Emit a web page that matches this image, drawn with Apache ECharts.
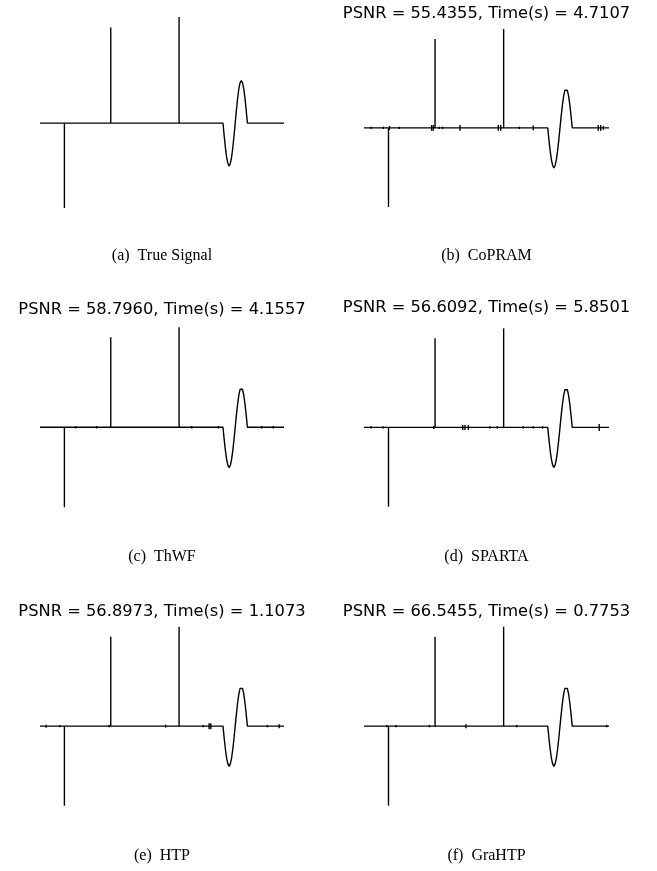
<!DOCTYPE html>
<html>
<head>
<meta charset="utf-8">
<script src="https://cdn.jsdelivr.net/npm/echarts@6/dist/echarts.min.js"></script>
<style>
html,body{margin:0;padding:0;background:#fff;}
#chart{width:657px;height:871px;}
</style>
</head>
<body>
<div id="chart"></div>
<script>
// ---------- DATA ----------
const xRange = [0, 1000];
const yRange = [-0.8, 1.0];

// true signal: spikes
const spikePos = [100, 290, 570];
const spikeAmp = [-0.8, 0.9, 1.0];

// true signal: smooth wave segment
const waveX = [750, 755, 760, 765, 770, 775, 780, 785, 790, 795, 800, 805, 810, 815, 820, 825, 830, 835, 840, 845, 850];
const waveY = [0, -0.124, -0.235, -0.324, -0.380, -0.405, -0.380, -0.324, -0.235, -0.124, 0, 0.124, 0.235, 0.324, 0.380, 0.400, 0.380, 0.324, 0.235, 0.124, 0];

// panel titles and captions
const titles = [
  null,
  'PSNR = 55.4355, Time(s) = 4.7107',
  'PSNR = 58.7960, Time(s) = 4.1557',
  'PSNR = 56.6092, Time(s) = 5.8501',
  'PSNR = 56.8973, Time(s) = 1.1073',
  'PSNR = 66.5455, Time(s) = 0.7753'
];
const captions = ['(a)  True Signal', '(b)  CoPRAM', '(c)  ThWF', '(d)  SPARTA', '(e)  HTP', '(f)  GraHTP'];

// small reconstruction errors (position, amplitude) per panel
const errA_x = [];
const errA_a = [];
const errB_x = [29, 79, 104, 144, 276, 283, 307, 321, 392, 548, 558, 634, 691, 956, 966, 977];
const errB_a = [0.012, 0.012, 0.02, 0.012, 0.03, 0.03, 0.012, 0.012, 0.03, 0.03, 0.03, 0.012, 0.025, 0.03, 0.03, 0.02];
const errC_x = [146, 232, 622, 731, 909, 956];
const errC_a = [0.012, 0.012, 0.012, 0.012, 0.012, 0.012];
const errD_x = [29, 78, 285, 403, 412, 426, 514, 544, 650, 691, 729, 960];
const errD_a = [0.012, 0.012, 0.015, 0.025, 0.025, 0.025, 0.012, 0.012, 0.012, 0.012, 0.012, 0.035];
const errE_x = [25, 82, 283, 515, 669, 693, 700, 932, 980];
const errE_a = [0.015, 0.012, 0.012, 0.015, 0.012, 0.03, 0.03, 0.012, 0.02];
const errF_x = [93, 131, 267, 416, 623, 991];
const errF_a = [0.012, 0.012, 0.012, 0.02, 0.012, 0.012];

const errX = [errA_x, errB_x, errC_x, errD_x, errE_x, errF_x];
const errA = [errA_a, errB_a, errC_a, errD_a, errE_a, errF_a];

// ---------- LAYOUT ----------
const layout = [
  {left: 40,  top: 17,    width: 244, height: 191, titleY: 14,    capY: 256},
  {left: 364, top: 29,    width: 245, height: 178, titleY: 14,    capY: 256},
  {left: 40,  top: 327.3, width: 244, height: 180, titleY: 309.5, capY: 557},
  {left: 364, top: 328.3, width: 245, height: 178.4, titleY: 308, capY: 557},
  {left: 40,  top: 626.7, width: 244, height: 179, titleY: 611.7, capY: 856},
  {left: 364, top: 626.7, width: 245, height: 179, titleY: 612,   capY: 856}
];

function baseLine() {
  const d = [[xRange[0], 0]];
  waveX.forEach((x, i) => d.push([x, waveY[i]]));
  d.push([xRange[1], 0]);
  return d;
}
function stems(k) {
  // each item: [x, yFrom, yTo]
  const d = spikePos.map((p, i) => [p, 0, spikeAmp[i]]);
  errX[k].forEach((p, i) => d.push([p, -errA[k][i], errA[k][i]]));
  return d;
}

const grids = [], xAxes = [], yAxes = [], series = [], graphics = [];
const LW = 1.4;
layout.forEach((L, k) => {
  grids.push({left: L.left, top: L.top, width: L.width, height: L.height, containLabel: false});
  xAxes.push({type: 'value', gridIndex: k, min: xRange[0], max: xRange[1], show: false});
  yAxes.push({type: 'value', gridIndex: k, min: yRange[0], max: yRange[1], show: false});
  series.push({
    type: 'line', xAxisIndex: k, yAxisIndex: k, data: baseLine(),
    symbol: 'none', lineStyle: {color: '#000', width: LW}, silent: true
  });
  series.push({
    type: 'custom', xAxisIndex: k, yAxisIndex: k, data: stems(k), silent: true,
    encode: {x: 0, y: [1, 2]},
    renderItem: function (params, api) {
      const p0 = api.coord([api.value(0), api.value(1)]);
      const p1 = api.coord([api.value(0), api.value(2)]);
      return {type: 'line', shape: {x1: p0[0], y1: p0[1], x2: p1[0], y2: p1[1]},
              style: {stroke: '#000', lineWidth: LW}};
    }
  });
  const cx = L.left + L.width / 2;
  if (titles[k]) {
    graphics.push({type: 'text', x: cx, y: L.titleY, silent: true,
      style: {text: titles[k], fill: '#000', font: '16.3px "DejaVu Sans"', textAlign: 'center', textVerticalAlign: 'middle'}});
  }
  graphics.push({type: 'text', x: cx, y: L.capY, silent: true,
    style: {text: captions[k], fill: '#000', font: '16px "Liberation Serif"', textAlign: 'center', textVerticalAlign: 'middle'}});
});

const chart = echarts.init(document.getElementById('chart'), null, {renderer: 'canvas'});
chart.setOption({
  animation: false,
  backgroundColor: '#fff',
  grid: grids,
  xAxis: xAxes,
  yAxis: yAxes,
  series: series,
  graphic: graphics
});
</script>
</body>
</html>
